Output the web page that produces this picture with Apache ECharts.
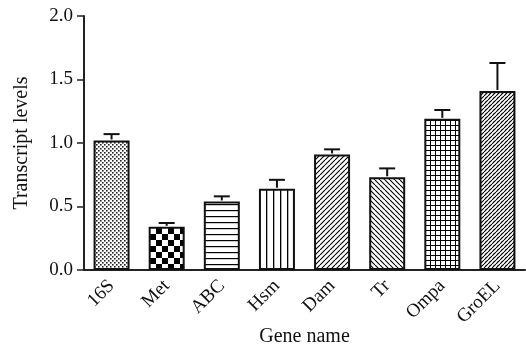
<!DOCTYPE html>
<html>
<head>
<meta charset="utf-8">
<script src="https://cdn.jsdelivr.net/npm/echarts@6/dist/echarts.min.js"></script>
<style>html,body{margin:0;padding:0;background:#fff}#c{width:526px;height:348px}</style>
</head>
<body>
<div id="c"></div>
<script>
var categories = ['16S', 'Met', 'ABC', 'Hsm', 'Dam', 'Tr', 'Ompa', 'GroEL'];
var values = [1.02, 0.34, 0.54, 0.64, 0.91, 0.73, 1.19, 1.41];
var errors = [0.05, 0.03, 0.04, 0.07, 0.04, 0.07, 0.07, 0.22];
var yTicks = [0, 0.5, 1.0, 1.5, 2.0];
var patternTypes = ['dots', 'checker', 'hlines', 'vlines', 'diagR', 'diagL', 'grid', 'diagDense'];

function makePattern(type) {
  var c = document.createElement('canvas');
  var ctx;
  function init(size) { c.width = size; c.height = size; ctx = c.getContext('2d'); ctx.fillStyle = '#fff'; ctx.fillRect(0, 0, size, size); ctx.fillStyle = '#000'; ctx.strokeStyle = '#000'; }
  if (type === 'dots') {
    init(4);
    ctx.fillStyle = '#222';
    ctx.fillRect(0, 0, 1.6, 1.6); ctx.fillRect(2, 2, 1.6, 1.6);
  } else if (type === 'checker') {
    init(12);
    ctx.fillRect(0, 0, 6, 6); ctx.fillRect(6, 6, 6, 6);
  } else if (type === 'hlines') {
    init(6);
    ctx.fillRect(0, 0, 6, 1.2);
  } else if (type === 'vlines') {
    init(7);
    ctx.fillRect(0, 0, 1.3, 7);
  } else if (type === 'diagR' || type === 'diagL' || type === 'diagDense') {
    var n = type === 'diagDense' ? 4 : 5;
    init(n);
    ctx.lineWidth = 1.1;
    ctx.beginPath();
    for (var k = -1; k <= 1; k++) {
      if (type === 'diagL') { ctx.moveTo(k * n, 0); ctx.lineTo(k * n + n, n); }
      else { ctx.moveTo(k * n, n); ctx.lineTo(k * n + n, 0); }
    }
    ctx.stroke();
    if (type === 'diagDense') { ctx.fillStyle = '#555'; ctx.fillRect(1, 1, 0.8, 0.8); }
  } else if (type === 'grid') {
    init(5);
    ctx.fillRect(0, 0, 5, 1); ctx.fillRect(0, 0, 1, 5);
  }
  return c;
}

var chart = echarts.init(document.getElementById('c'), null, { renderer: 'canvas' });
var font = 'Liberation Serif';
var barData = values.map(function (v, i) {
  return { value: v, itemStyle: { color: { image: makePattern(patternTypes[i]), repeat: 'repeat' } } };
});
var errData = values.map(function (v, i) { return [i, v, errors[i]]; });

chart.setOption({
  animation: false,
  backgroundColor: '#fff',
  grid: { left: 84, right: 1, top: 16, bottom: 78, containLabel: false, outerBoundsMode: 'none' },
  xAxis: {
    type: 'category',
    data: categories,
    name: 'Gene name',
    nameLocation: 'middle',
    nameGap: 57,
    nameMoveOverlap: false,
    nameTextStyle: { fontFamily: font, fontSize: 20, color: '#111' },
    axisLine: { lineStyle: { color: '#222', width: 2 } },
    axisTick: { alignWithLabel: true, length: 7, lineStyle: { color: '#222', width: 1.5 } },
    axisLabel: { rotate: 45, fontFamily: font, fontSize: 19, color: '#111', margin: 13, interval: 0 }
  },
  yAxis: {
    type: 'value',
    min: yTicks[0],
    max: yTicks[yTicks.length - 1],
    interval: 0.5,
    name: 'Transcript levels',
    nameLocation: 'middle',
    nameGap: 52,
    nameMoveOverlap: false,
    nameTextStyle: { fontFamily: font, fontSize: 20, color: '#111' },
    axisLine: { show: true, lineStyle: { color: '#222', width: 2 } },
    axisTick: { show: true, length: 7, lineStyle: { color: '#222', width: 1.5 } },
    axisLabel: { fontFamily: font, fontSize: 19, color: '#111', margin: 11, formatter: function (v) { return v.toFixed(1); } },
    splitLine: { show: false }
  },
  series: [
    {
      type: 'bar',
      data: barData,
      barWidth: 36,
      itemStyle: { borderColor: '#111', borderWidth: 2 },
      z: 2
    },
    {
      type: 'custom',
      data: errData,
      z: 3,
      renderItem: function (params, api) {
        var i = api.value(0), v = api.value(1), e = api.value(2);
        var base = api.coord([i, v]);
        var top = api.coord([i, v + e]);
        var style = { stroke: '#111', lineWidth: 2 };
        return {
          type: 'group',
          children: [
            { type: 'line', shape: { x1: base[0], y1: base[1] - 1, x2: top[0], y2: top[1] }, style: style },
            { type: 'line', shape: { x1: top[0] - 8, y1: top[1], x2: top[0] + 8, y2: top[1] }, style: style }
          ]
        };
      }
    }
  ]
});
</script>
</body>
</html>
